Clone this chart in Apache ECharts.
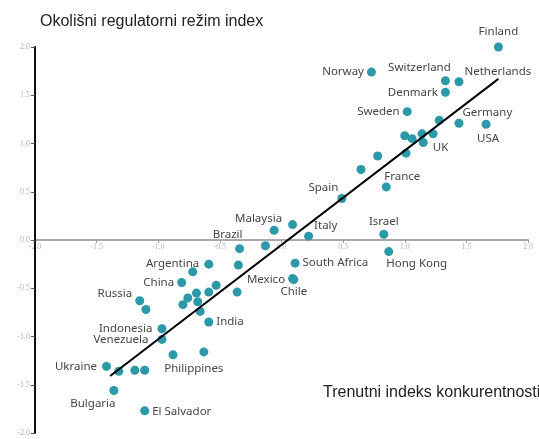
<!DOCTYPE html>
<html>
<head>
<meta charset="UTF-8">
<title>Konkurentnost i regulatorni režim</title>
<script type="text/javascript" src="https://cdn.jsdelivr.net/npm/echarts@6/dist/echarts.min.js"></script>
<style>
  body { margin: 0; background: #fff; }
</style>
</head>
<body>
<div id="main" style="width:539px;height:439px"></div>

<script type="text/javascript">
	// zemlje s oznakom (prazno ime = tocka bez oznake)
	var countries = ['Finland','Norway','Switzerland','Netherlands','Denmark','Sweden','Germany','USA','UK',
	  'France','Spain','Malaysia','Italy','Israel','Hong Kong','South Africa','Mexico','Chile','Brazil',
	  'Argentina','China','India','Russia','Indonesia','Venezuela','Ukraine','Philippines','Bulgaria','El Salvador',
	  '','','','','','','','','','','','','','','','','','','','','','','','',''];
	// trenutni indeks konkurentnosti (x)
	var compIndex = [1.76,0.73,1.33,1.44,1.33,1.02,1.44,1.66,1.15,
	  0.85,0.49,0.09,0.22,0.83,0.87,0.11,0.09,0.10,-0.34,
	  -0.59,-0.81,-0.59,-1.15,-0.97,-0.97,-1.42,-1.11,-1.36,-1.11,
	  1.28,1.00,1.06,1.14,1.23,1.01,0.78,0.645,-0.06,-0.13,-0.35,-0.72,-0.53,-0.59,-0.36,
	  -0.69,-0.76,-0.68,-0.80,-0.66,-1.10,-0.88,-0.63,-1.32,-1.19];
	// okolisni regulatorni rezim index (y)
	var envIndex = [2.00,1.74,1.65,1.64,1.53,1.33,1.21,1.20,1.01,
	  0.55,0.43,0.16,0.04,0.06,-0.12,-0.24,-0.40,-0.41,-0.09,
	  -0.25,-0.44,-0.85,-0.63,-0.92,-1.03,-1.31,-1.35,-1.56,-1.77,
	  1.24,1.08,1.05,1.10,1.10,0.90,0.87,0.73,0.10,-0.06,-0.26,-0.33,-0.47,-0.54,-0.54,
	  -0.55,-0.60,-0.64,-0.67,-0.74,-0.72,-1.19,-1.16,-1.36,-1.35];
	// linija trenda
	var trendX = [-1.39, 1.76];
	var trendY = [-1.41, 1.67];

	// smjestaj oznaka: [pozicija, dx, dy]
	var labelPos = {
	  'Finland':['top',0,-2], 'Norway':['left',0,0], 'Switzerland':['top',-26,0],
	  'Netherlands':['right',-2,-10], 'Denmark':['left',0,0], 'Sweden':['left',0,0],
	  'Germany':['right',-4,-11], 'USA':['bottom',2,1], 'UK':['right',2,5],
	  'France':['top',16,3], 'Spain':['left',4,-11], 'Malaysia':['left',-3,-6],
	  'Italy':['right',-2,-10], 'Israel':['top',0,1], 'Hong Kong':['bottom',28,-1],
	  'South Africa':['right',0,0], 'Mexico':['left',0,1], 'Chile':['bottom',0,-1],
	  'Brazil':['top',-12,0], 'Argentina':['left',-2,0], 'China':['left',0,0],
	  'India':['right',0,0], 'Russia':['left',0,-7], 'Indonesia':['left',-2,0],
	  'Venezuela':['left',-6,0], 'Ukraine':['left',-2,0], 'Philippines':['right',12,-2],
	  'Bulgaria':['bottom',-21,0], 'El Salvador':['right',0,1]
	};

	var points = [];
	for (var i = 0; i < compIndex.length; i++) {
	  var p = { name: countries[i], value: [compIndex[i], envIndex[i]] };
	  if (labelPos[countries[i]]) {
	    p.label = { show: true, position: labelPos[countries[i]][0] };
	  }
	  points.push(p);
	}

	var tickFmt = function (v) { return v.toFixed(1); };

	var mychart = echarts.init(document.getElementById('main'));
	var option = {
	  animation: false,
	  backgroundColor: '#fff',
	  title: [{
	    text: 'Okolišni regulatorni režim index',
	    left: 35, top: 9,
	    textStyle: { fontFamily: 'Liberation Sans', fontSize: 16, fontWeight: 'normal', color: '#222' }
	  }, {
	    text: 'Trenutni indeks konkurentnosti',
	    left: 318, top: 380,
	    textStyle: { fontFamily: 'Liberation Sans', fontSize: 16, fontWeight: 'normal', color: '#222' }
	  }],
	  grid: [
	    { left: 35, right: 11, top: 47, bottom: 6 },
	    // tanka traka na y=0 samo za x-os s oznakama
	    { left: 35, right: 11, top: 239, height: 1 }
	  ],
	  xAxis: [{
	    type: 'value', min: -2, max: 2, interval: 0.5, gridIndex: 0, show: false
	  }, {
	    type: 'value', min: -2, max: 2, interval: 0.5, gridIndex: 1,
	    axisLine: { show: true, onZero: false, lineStyle: { color: '#a8a8a8', width: 2 } },
	    axisTick: { show: true, length: 3, lineStyle: { color: '#999' } },
	    axisLabel: { margin: 3, fontSize: 8, color: '#b4b4b4', fontFamily: 'Liberation Serif', formatter: tickFmt },
	    splitLine: { show: false }
	  }],
	  yAxis: [{
	    type: 'value', min: -2, max: 2, interval: 0.5, gridIndex: 0,
	    axisLine: { show: true, onZero: false, lineStyle: { color: '#111', width: 2 } },
	    axisTick: { show: true, length: 4, lineStyle: { color: '#555' } },
	    axisLabel: { margin: 5, fontSize: 8, color: '#b4b4b4', fontFamily: 'Liberation Serif', formatter: tickFmt },
	    splitLine: { show: false },
	    z: 5
	  }, {
	    type: 'value', gridIndex: 1, show: false
	  }],
	  series: [{
	    type: 'scatter',
	    xAxisIndex: 0, yAxisIndex: 0,
	    symbolSize: 9,
	    itemStyle: { color: '#2b99a8', opacity: 1 },
	    label: {
	      show: false,
	      formatter: '{b}',
	      fontFamily: 'Noto Sans', fontSize: 11.5, color: '#454545', distance: 3
	    },
	    labelLayout: function (params) {
	      var lp = labelPos[countries[params.dataIndex]];
	      if (!lp) return {};
	      return { dx: lp[1], dy: lp[2], hideOverlap: false };
	    },
	    data: points,
	    z: 3
	  }, {
	    type: 'line',
	    xAxisIndex: 0, yAxisIndex: 0,
	    data: [[trendX[0], trendY[0]], [trendX[1], trendY[1]]],
	    symbol: 'none',
	    lineStyle: { color: '#000', width: 2 },
	    z: 4
	  }]
	};
	mychart.setOption(option);
</script>
</body>
</html>
